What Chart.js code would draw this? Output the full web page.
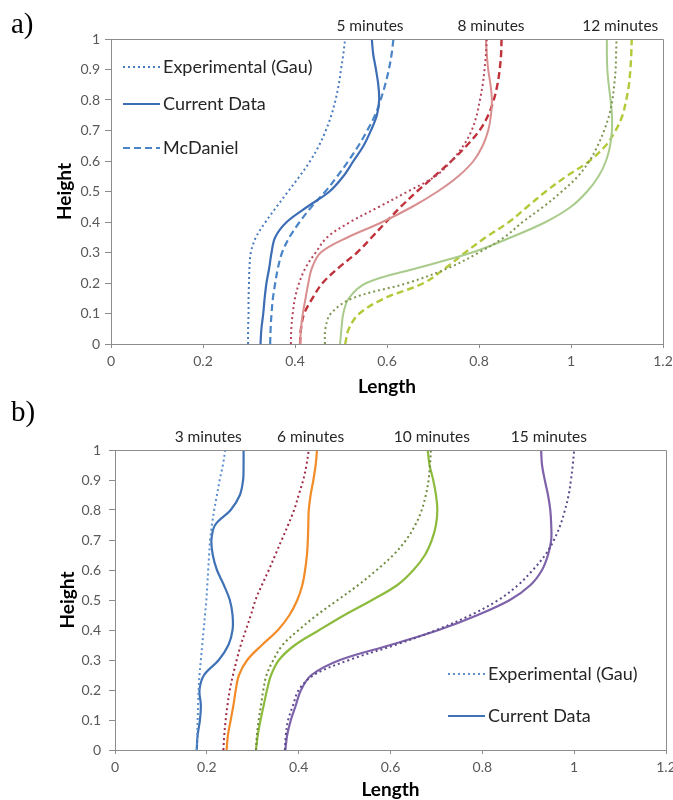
<!DOCTYPE html>
<html>
<head>
<meta charset="utf-8">
<title>Height vs Length profiles</title>
<script src="https://cdn.jsdelivr.net/npm/chart.js@4.4.1/dist/chart.umd.min.js"></script>
<style>
  body { margin: 0; background: #fff; }
  #page { position: relative; width: 673px; height: 800px; overflow: hidden; }
  .panel { position: absolute; left: 0; width: 673px; height: 400px; }
  .tag { position: absolute; left: 11px; font: 29px "Liberation Serif", serif; color: #000; line-height: 1; }
</style>
</head>
<body>
<div id="page">
  <div class="panel" style="top:0"><canvas id="chartA" width="673" height="400"></canvas></div>
  <div class="panel" style="top:400px"><canvas id="chartB" width="673" height="400"></canvas></div>
  <div class="tag" style="top:9px">a)</div>
  <div class="tag" style="top:397px">b)</div>
</div>
<script>
// shared height samples (y) for every profile
const heights = [0, 0.05, 0.1, 0.15, 0.2, 0.25, 0.3, 0.35, 0.4, 0.45, 0.5,
                 0.55, 0.6, 0.65, 0.7, 0.75, 0.8, 0.85, 0.9, 0.95, 1];
const xTicks = [0, 0.2, 0.4, 0.6, 0.8, 1, 1.2];
const yTicks = [0, 0.1, 0.2, 0.3, 0.4, 0.5, 0.6, 0.7, 0.8, 0.9, 1];

// panel a) lengths per height
const minutesA = ['5 minutes', '8 minutes', '12 minutes'];
const minutesAtA = [0.563, 0.826, 1.107];
const gau5  = [0.298, 0.298, 0.299, 0.299, 0.300, 0.301, 0.304, 0.315, 0.336, 0.360, 0.385, 0.410, 0.433, 0.452, 0.467, 0.479, 0.488, 0.495, 0.500, 0.505, 0.509];
const cur5  = [0.325, 0.327, 0.331, 0.334, 0.338, 0.344, 0.349, 0.357, 0.382, 0.427, 0.475, 0.505, 0.527, 0.549, 0.565, 0.578, 0.583, 0.581, 0.576, 0.570, 0.567];
const mcd5  = [0.346, 0.347, 0.349, 0.352, 0.357, 0.363, 0.372, 0.388, 0.410, 0.436, 0.466, 0.492, 0.516, 0.538, 0.557, 0.574, 0.586, 0.596, 0.604, 0.610, 0.614];
const gau8  = [0.391, 0.392, 0.395, 0.400, 0.409, 0.423, 0.445, 0.470, 0.520, 0.583, 0.645, 0.705, 0.740, 0.766, 0.784, 0.795, 0.802, 0.808, 0.812, 0.815, 0.817];
const cur8  = [0.411, 0.413, 0.417, 0.423, 0.429, 0.437, 0.456, 0.515, 0.590, 0.655, 0.710, 0.755, 0.788, 0.808, 0.820, 0.826, 0.828, 0.825, 0.820, 0.817, 0.815];
const mcd8  = [0.411, 0.413, 0.420, 0.438, 0.460, 0.495, 0.535, 0.567, 0.598, 0.630, 0.665, 0.703, 0.740, 0.773, 0.801, 0.820, 0.832, 0.840, 0.845, 0.848, 0.849];
const gau12 = [0.465, 0.466, 0.478, 0.525, 0.645, 0.735, 0.800, 0.855, 0.895, 0.940, 0.980, 1.015, 1.040, 1.058, 1.072, 1.083, 1.090, 1.094, 1.097, 1.098, 1.099];
const cur12 = [0.498, 0.501, 0.505, 0.517, 0.555, 0.668, 0.785, 0.870, 0.945, 1.000, 1.035, 1.060, 1.076, 1.085, 1.089, 1.089, 1.086, 1.082, 1.079, 1.078, 1.078];
const mcd12 = [0.509, 0.517, 0.540, 0.595, 0.680, 0.728, 0.770, 0.815, 0.865, 0.905, 0.945, 0.990, 1.040, 1.075, 1.097, 1.112, 1.120, 1.126, 1.129, 1.131, 1.132];

// panel b) lengths per height
const minutesB = ['3 minutes', '6 minutes', '10 minutes', '15 minutes'];
const minutesAtB = [0.203, 0.426, 0.690, 0.945];
const gau3  = [0.178, 0.179, 0.180, 0.181, 0.182, 0.184, 0.187, 0.190, 0.193, 0.196, 0.199, 0.201, 0.203, 0.205, 0.207, 0.211, 0.216, 0.222, 0.228, 0.235, 0.240];
const cur3  = [0.178, 0.180, 0.185, 0.187, 0.184, 0.194, 0.226, 0.247, 0.256, 0.256, 0.250, 0.237, 0.222, 0.213, 0.210, 0.218, 0.252, 0.272, 0.279, 0.280, 0.280];
const gau6  = [0.236, 0.238, 0.241, 0.245, 0.250, 0.257, 0.265, 0.274, 0.285, 0.296, 0.306, 0.320, 0.335, 0.349, 0.363, 0.377, 0.390, 0.400, 0.410, 0.417, 0.422];
const cur6  = [0.243, 0.246, 0.252, 0.258, 0.263, 0.270, 0.288, 0.320, 0.355, 0.380, 0.397, 0.408, 0.414, 0.418, 0.420, 0.421, 0.422, 0.426, 0.432, 0.437, 0.440];
const gau10 = [0.307, 0.309, 0.313, 0.318, 0.323, 0.330, 0.345, 0.365, 0.400, 0.440, 0.485, 0.530, 0.570, 0.606, 0.634, 0.654, 0.668, 0.677, 0.683, 0.686, 0.688];
const cur10 = [0.307, 0.311, 0.317, 0.324, 0.331, 0.340, 0.357, 0.392, 0.445, 0.500, 0.560, 0.615, 0.650, 0.675, 0.690, 0.699, 0.702, 0.699, 0.693, 0.685, 0.681];
const gau15 = [0.370, 0.372, 0.377, 0.388, 0.400, 0.433, 0.510, 0.610, 0.700, 0.775, 0.835, 0.878, 0.910, 0.937, 0.956, 0.970, 0.980, 0.988, 0.993, 0.997, 1.000];
const cur15 = [0.371, 0.375, 0.383, 0.394, 0.405, 0.428, 0.490, 0.600, 0.705, 0.790, 0.860, 0.905, 0.930, 0.943, 0.950, 0.950, 0.948, 0.943, 0.936, 0.930, 0.928];

const DOT = [2, 3];
const DASH = [7, 4];
const AXIS = '#8c8c8c';
const INK = '#262626';

Chart.defaults.font.family = 'Lato';

function profile(values, color, dash, width) {
  return {
    data: values.map((v, i) => ({ x: v, y: heights[i] })),
    borderColor: color,
    borderDash: dash || [],
    borderWidth: width || 2,
    pointRadius: 0,
    showLine: true,
    tension: 0.35,
    fill: false
  };
}

// frame, minute labels and the in-plot key
const panelDecor = {
  id: 'panelDecor',
  afterDraw(chart, args, opts) {
    const { ctx, chartArea: a, scales: { x } } = chart;
    ctx.save();
    ctx.strokeStyle = AXIS;
    ctx.lineWidth = 1;
    ctx.beginPath();
    ctx.moveTo(Math.round(a.left) + 0.5, Math.round(a.top) + 0.5);
    ctx.lineTo(Math.round(a.right) + 0.5, Math.round(a.top) + 0.5);
    ctx.lineTo(Math.round(a.right) + 0.5, Math.round(a.bottom) + 0.5);
    ctx.stroke();

    ctx.fillStyle = INK;
    ctx.font = '15.5px Lato';
    ctx.textAlign = 'center';
    ctx.textBaseline = 'middle';
    opts.labels.forEach((t, i) => {
      ctx.fillText(t, x.getPixelForValue(opts.labelAt[i]), a.top - 13);
    });

    ctx.font = '18px Lato';
    ctx.textAlign = 'left';
    opts.key.forEach((k, i) => {
      const y = opts.keyRows[i];
      ctx.strokeStyle = k.color;
      ctx.lineWidth = 2;
      ctx.setLineDash(k.dash);
      ctx.beginPath();
      ctx.moveTo(opts.keyX, y);
      ctx.lineTo(opts.keyX + 37, y);
      ctx.stroke();
      ctx.setLineDash([]);
      ctx.fillText(k.text, opts.keyX + 40, y);
    });
    ctx.restore();
  }
};

function makePanel(id, datasets, cfg) {
  const tickFont = { size: 14 };
  const titleFont = { size: 19, weight: 'bold', lineHeight: 1 };
  return new Chart(document.getElementById(id), {
    type: 'scatter',
    data: { datasets },
    plugins: [panelDecor],
    options: {
      responsive: false,
      animation: false,
      events: [],
      layout: { padding: { top: cfg.top, right: cfg.right, bottom: 0, left: 0 } },
      plugins: {
        legend: { display: false },
        tooltip: { enabled: false },
        panelDecor: cfg.decor
      },
      scales: {
        x: {
          type: 'linear', min: 0, max: 1.2,
          afterBuildTicks: s => { s.ticks = xTicks.map(v => ({ value: v })); },
          afterFit: s => { s.height = cfg.xHeight; s.paddingLeft = 0; s.paddingRight = 0; },
          ticks: { callback: v => String(v), color: '#595959', font: tickFont, padding: 5, maxRotation: 0, autoSkip: false },
          grid: { drawOnChartArea: false, tickLength: 4, tickColor: AXIS },
          border: { color: AXIS },
          title: { display: true, text: 'Length', color: '#000', font: titleFont, padding: { top: 0, bottom: cfg.xTitlePad } }
        },
        y: {
          type: 'linear', min: 0, max: 1,
          afterBuildTicks: s => { s.ticks = yTicks.map(v => ({ value: v })); },
          afterFit: s => { s.width = cfg.yWidth; },
          ticks: { callback: v => String(v), color: '#595959', font: tickFont, padding: cfg.yTickPad, autoSkip: false },
          grid: { drawOnChartArea: false, tickLength: 6, tickColor: AXIS },
          border: { color: AXIS },
          title: { display: true, text: 'Height', color: '#000', font: titleFont, padding: { top: cfg.yTitlePad, bottom: 0 } }
        }
      }
    }
  });
}

makePanel('chartA', [
  profile(gau5, '#4a7cc0', DOT),
  profile(cur5, '#3d6db5', null, 2.2),
  profile(mcd5, '#4a85c8', DASH, 2.2),
  profile(gau8, '#b5465a', DOT),
  profile(cur8, '#d98f8f', null, 2),
  profile(mcd8, '#c0313a', DASH, 2.4),
  profile(gau12, '#7f9650', DOT),
  profile(cur12, '#a9cb8b', null, 2),
  profile(mcd12, '#b4c83a', DASH, 2.4)
], {
  top: 39, right: 10, xHeight: 56, yWidth: 111,
  xTitlePad: 3.5, yTitlePad: 55, yTickPad: 5,
  decor: {
    labels: minutesA, labelAt: minutesAtA,
    keyX: 123, keyRows: [67, 104, 148],
    key: [
      { text: 'Experimental (Gau)', color: '#4a7cc0', dash: DOT },
      { text: 'Current Data', color: '#3d6db5', dash: [] },
      { text: 'McDaniel', color: '#4a85c8', dash: DASH }
    ]
  }
});

makePanel('chartB', [
  profile(gau3, '#5b8fd0', DOT),
  profile(cur3, '#3f72b5', null, 2.2),
  profile(gau6, '#9e2b45', DOT),
  profile(cur6, '#f28c28', null, 2.2),
  profile(gau10, '#6e8b3d', DOT),
  profile(cur10, '#8dbb3e', null, 2.2),
  profile(gau15, '#5d4a8c', DOT),
  profile(cur15, '#7e62aa', null, 2.2)
], {
  top: 50, right: 7, xHeight: 50, yWidth: 115,
  xTitlePad: 0.5, yTitlePad: 58, yTickPad: 8,
  decor: {
    labels: minutesB, labelAt: minutesAtB,
    keyX: 448, keyRows: [274, 316],
    key: [
      { text: 'Experimental (Gau)', color: '#5b8fd0', dash: DOT },
      { text: 'Current Data', color: '#3f72b5', dash: [] }
    ]
  }
});
</script>
</body>
</html>
